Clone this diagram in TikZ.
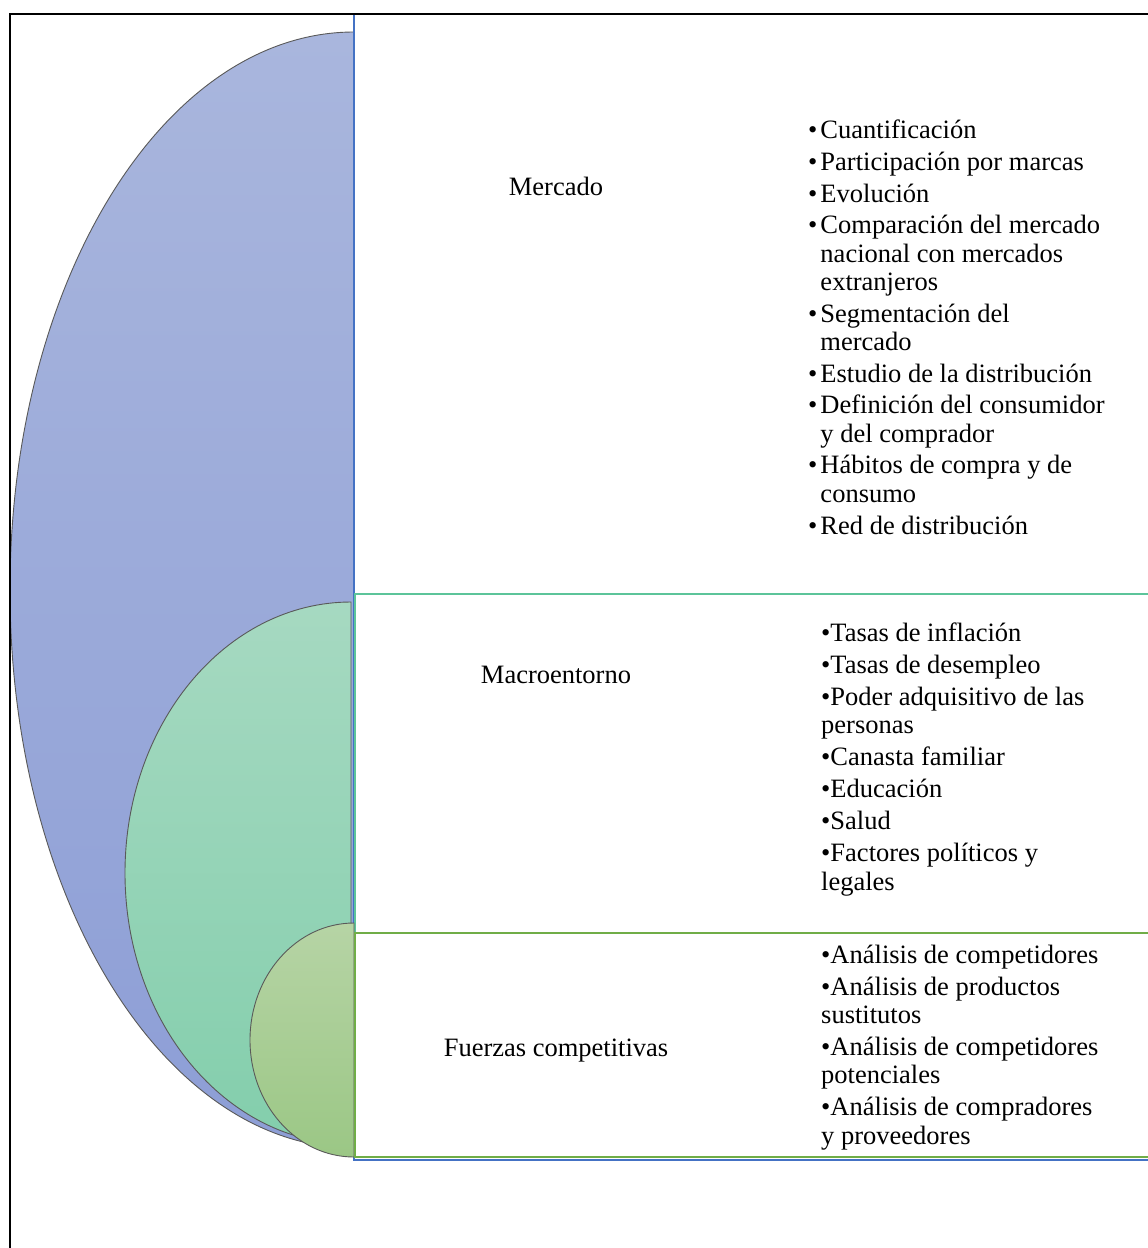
\documentclass[tikz,border=0pt]{standalone}
\usepackage{fontspec}
\setmainfont{Liberation Serif}
\newcommand{\mkbul}{•\hspace{3pt}}
\newcommand{\mkind}{\phantom{•}\hspace{3pt}}
\begin{document}
\begin{tikzpicture}[x=1pt,y=-1pt,
  lobe/.style={draw=black!65, line width=0.9pt},
  panel/.style={line width=1.3pt},
  label/.style={inner sep=0pt, anchor=base, font=\fontsize{26.5}{28.3}\selectfont},
  items/.style={inner sep=0pt, anchor=base west, align=left, font=\fontsize{26.5}{28.3}\selectfont}]
\definecolor{mkBlueA}{HTML}{A9B6DD}
\definecolor{mkBlueB}{HTML}{8D9ED6}
\definecolor{mkTealA}{HTML}{A6D9C1}
\definecolor{mkTealB}{HTML}{83CEAC}
\definecolor{mkGreenA}{HTML}{B6D4A5}
\definecolor{mkGreenB}{HTML}{9BC785}
\definecolor{lnBlue}{HTML}{4472C4}
\definecolor{lnTeal}{HTML}{5CC49A}
\definecolor{lnGreen}{HTML}{70AD47}
\useasboundingbox (0,0) rectangle (1148,1248);
\clip (0,0) rectangle (1148,1248);
\fill[white] (0,0) rectangle (1148,1248);

% outer level: market
\draw[lobe, top color=mkBlueA, bottom color=mkBlueB]
  (354,32) arc[start angle=-90, end angle=-270, x radius=344, y radius=558] -- cycle;
\draw[panel, draw=lnBlue, fill=white] (354,14) rectangle (1170,1160);

% middle level: macro environment
\draw[lobe, top color=mkTealA, bottom color=mkTealB]
  (351,602) arc[start angle=-90, end angle=-270, x radius=226, y radius=271] -- cycle;
\draw[panel, draw=lnTeal, fill=white] (355,594) rectangle (1170,1157);

% inner level: competitive forces
\draw[lobe, top color=mkGreenA, bottom color=mkGreenB]
  (354,923) arc[start angle=-90, end angle=-270, x radius=104, y radius=117] -- cycle;
\draw[panel, draw=lnGreen, fill=white] (355,933) rectangle (1170,1157);

% page frame
\draw[line width=2pt] (9.5,14) rectangle (1200,1300);

% level titles
\node[label] (mercado) at (556,195) {Mercado};
\node[label] (macro) at (556,683) {Macroentorno};
\node[label] (fuerzas) at (556,1056) {Fuerzas competitivas};

% bullet lists (placed by the baseline of their last line)
\node[items] (listaMercado) at (808,534) {%
\mkbul Cuantificación\\[3.45pt]
\mkbul Participación por marcas\\[3.45pt]
\mkbul Evolución\\[3.45pt]
\mkbul Comparación del mercado\\
\mkind nacional con mercados\\
\mkind extranjeros\\[3.45pt]
\mkbul Segmentación del\\
\mkind mercado\\[3.45pt]
\mkbul Estudio de la distribución\\[3.45pt]
\mkbul Definición del consumidor\\
\mkind y del comprador\\[3.45pt]
\mkbul Hábitos de compra y de\\
\mkind consumo\\[3.45pt]
\mkbul Red de distribución};

\node[items] (listaMacro) at (821,890) {%
•Tasas de inflación\\[3.7pt]
•Tasas de desempleo\\[3.7pt]
•Poder adquisitivo de las\\
personas\\[3.7pt]
•Canasta familiar\\[3.7pt]
•Educación\\[3.7pt]
•Salud\\[3.7pt]
•Factores políticos y\\
legales};

\node[items] (listaFuerzas) at (821,1144) {%
•Análisis de competidores\\[3.7pt]
•Análisis de productos\\
sustitutos\\[3.7pt]
•Análisis de competidores\\
potenciales\\[3.7pt]
•Análisis de compradores\\
y proveedores};
\end{tikzpicture}
\end{document}
